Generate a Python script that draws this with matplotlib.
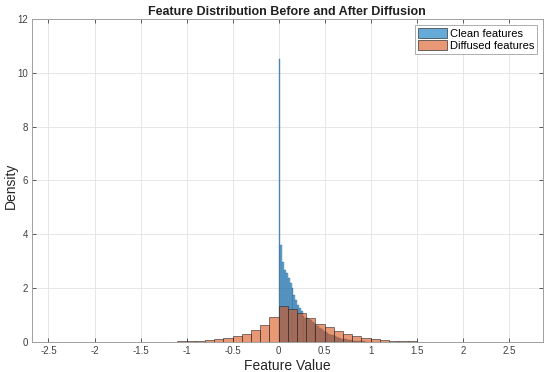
import numpy as np
import matplotlib.pyplot as plt
from matplotlib.patches import Patch

plt.rcParams['font.family'] = ['Liberation Sans', 'DejaVu Sans']

# clean features: bins of width 0.02 starting at 0
clean_start = 0.0
clean_width = 0.02
clean_density = [10.5, 3.6, 2.98, 2.68, 2.55, 2.37, 2.18, 2.0, 1.75, 1.56,
                 1.38, 1.25, 1.13, 0.97, 0.9, 0.87, 0.85, 0.8, 0.75, 0.7,
                 0.64, 0.58, 0.52, 0.47, 0.42, 0.38, 0.34, 0.30, 0.27, 0.24,
                 0.21, 0.18, 0.16, 0.14, 0.12, 0.10, 0.09, 0.08, 0.07, 0.06,
                 0.05, 0.04, 0.03, 0.03, 0.02, 0.02, 0.015, 0.01, 0.01, 0.008,
                 0.006, 0.005]

# diffused features: bins of width 0.1 starting at -1.4
diff_start = -1.4
diff_width = 0.1
diff_density = [0.005, 0.008, 0.012, 0.02, 0.03, 0.05, 0.07, 0.11, 0.16, 0.23,
                0.31, 0.45, 0.61, 0.93, 1.34, 1.21, 1.06, 0.88, 0.67, 0.54,
                0.41, 0.29, 0.2, 0.14, 0.1, 0.07, 0.05, 0.03, 0.02, 0.012,
                0.006]

blue = (0.0, 0.447, 0.741)
orange = (0.85, 0.325, 0.098)
fa = 0.6

fig = plt.figure(figsize=(5.5, 3.72), dpi=100)
ax = fig.add_axes([0.058, 0.081, 0.929, 0.868])

cx = clean_start + clean_width * np.arange(len(clean_density))
dx = diff_start + diff_width * np.arange(len(diff_density))

ax.bar(cx, clean_density, width=clean_width, align='edge',
       facecolor=blue + (fa,), edgecolor=(0.15, 0.3, 0.45, 0.7), linewidth=0.3,
       zorder=2)
ax.bar(dx, diff_density, width=diff_width, align='edge',
       facecolor=orange + (fa,), edgecolor=(0.15, 0.15, 0.15, 0.8), linewidth=0.5,
       zorder=3)

ax.set_xlim(-2.68, 2.87)
ax.set_ylim(0, 12)
ax.set_xticks(np.arange(-2.5, 2.51, 0.5))
ax.set_xticklabels(['-2.5', '-2', '-1.5', '-1', '-0.5', '0', '0.5', '1', '1.5', '2', '2.5'])
ax.set_yticks(np.arange(0, 13, 2))

ax.grid(True, color='#e3e3e3', linewidth=0.6, zorder=0)
ax.set_axisbelow(True)
ax.tick_params(direction='in', length=3, width=0.6, colors='#404040',
               labelsize=7, top=True, right=True, pad=3)
for s in ax.spines.values():
    s.set_color('#a0a0a0')
    s.set_linewidth(0.7)

ax.set_title('Feature Distribution Before and After Diffusion', fontsize=9,
             fontweight='bold', color='#202020', pad=3)
ax.set_xlabel('Feature Value', fontsize=10, color='#262626', labelpad=2)
ax.set_ylabel('Density', fontsize=10, color='#262626')
ax.yaxis.set_label_coords(18 / 550, 0.5, transform=fig.transFigure)

handles = [Patch(facecolor=blue + (fa,), edgecolor='#333333', linewidth=0.5),
           Patch(facecolor=orange + (fa,), edgecolor='#333333', linewidth=0.5)]
leg = ax.legend(handles, ['Clean features', 'Diffused features'], loc='upper right',
                fontsize=8, fancybox=False, framealpha=1, edgecolor='#a0a0a0',
                handlelength=2.6, handleheight=1.0, handletextpad=0.2,
                borderpad=0.3, labelspacing=0.1, borderaxespad=0.5)
leg.get_frame().set_linewidth(0.6)

fig.savefig('out.png', dpi=100)
